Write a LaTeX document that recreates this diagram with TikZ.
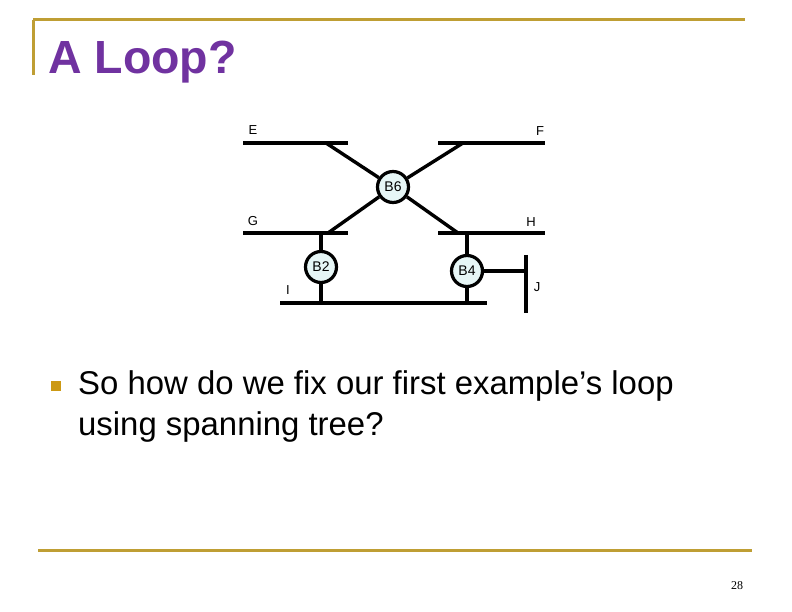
\documentclass[tikz,border=0pt]{standalone}
\usepackage{fontspec}
\setmainfont{Liberation Sans}
\newfontfamily\pnumfont{Liberation Serif}
\definecolor{slidegold}{RGB}{191,158,52}
\definecolor{bulletgold}{RGB}{204,153,20}
\definecolor{titlepurple}{RGB}{112,50,160}
\definecolor{bridgefill}{RGB}{230,246,246}
\begin{document}
\begin{tikzpicture}[x=1pt,y=-1pt,
  rule/.style={draw=slidegold,line width=3pt},
  seg/.style={draw=black,line width=3.6pt},
  link/.style={draw=black,line width=3.4pt},
  bridge/.style={circle,draw=black,line width=3.2pt,fill=bridgefill,minimum size=31pt,inner sep=0pt,font=\fontsize{14}{14}\selectfont},
  lanlabel/.style={inner sep=0pt,font=\fontsize{13}{13}\selectfont},
  bodytext/.style={inner sep=0pt,anchor=base west,font=\fontsize{32.9}{33}\selectfont}]
\useasboundingbox (0,0) rectangle (792,612);
% slide frame
\draw[rule] (33,20) -- (745,20);
\draw[rule] (33,20) -- (33,75);
\draw[rule] (38,550) -- (752,550);
\node[inner sep=0pt,anchor=base west,text=titlepurple,font=\fontsize{46.5}{46.5}\selectfont\bfseries] (title) at (48,74) {A Loop?};
% LAN segments
\coordinate (E1) at (243,143); \coordinate (E2) at (348,143);
\coordinate (F1) at (438,143); \coordinate (F2) at (545,143);
\coordinate (G1) at (243,233); \coordinate (G2) at (348,233);
\coordinate (H1) at (438,233); \coordinate (H2) at (545,233);
\coordinate (I1) at (280,303); \coordinate (I2) at (487,303);
\coordinate (J1) at (526,255); \coordinate (J2) at (526,313);
\draw[seg] (E1) -- (E2);
\draw[seg] (F1) -- (F2);
\draw[seg] (G1) -- (G2);
\draw[seg] (H1) -- (H2);
\draw[seg] (I1) -- (I2);
\draw[seg] (J1) -- (J2);
% bridges
\node[bridge] (B6) at (393,187) {B6};
\node[bridge] (B2) at (321,267) {B2};
\node[bridge] (B4) at (467,271) {B4};
% attachment points
\coordinate (eB6) at (326,143);
\coordinate (fB6) at (463,143);
\coordinate (gB6) at (328,233);
\coordinate (hB6) at (458,233);
\coordinate (gB2) at (321,233);
\coordinate (iB2) at (321,303);
\coordinate (hB4) at (467,233);
\coordinate (iB4) at (467,305);
\coordinate (jB4) at (526,271);
\draw[link] (B6) -- (eB6);
\draw[link] (B6) -- (fB6);
\draw[link] (B6) -- (gB6);
\draw[link] (B6) -- (hB6);
\draw[link] (B2) -- (gB2);
\draw[link] (B2) -- (iB2);
\draw[link] (B4) -- (hB4);
\draw[link] (B4) -- (iB4);
\draw[link] (B4) -- (jB4);
% labels
\node[lanlabel] (lE) at (253,130) {E};
\node[lanlabel] (lF) at (540,131) {F};
\node[lanlabel] (lG) at (253,221) {G};
\node[lanlabel] (lH) at (531,222) {H};
\node[lanlabel] (lI) at (288,290) {I};
\node[lanlabel] (lJ) at (537,287) {J};
% bullet text
\fill[bulletgold] (51,381) rectangle (61,391);
\node[bodytext] (line1) at (78,394) {So how do we fix our first example’s loop};
\node[bodytext] (line2) at (78,435) {using spanning tree?};
\node[inner sep=0pt,font=\fontsize{12}{12}\pnumfont] (pnum) at (737,586) {28};
\end{tikzpicture}
\end{document}
